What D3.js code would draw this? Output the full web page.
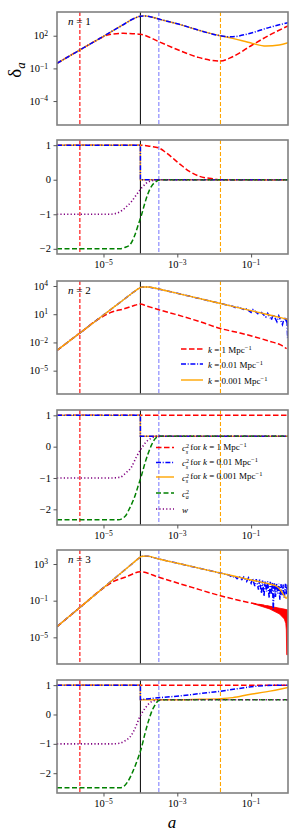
<!DOCTYPE html>
<html lang="en">
<head>
<meta charset="UTF-8" />
<title>delta_a for n = 1, 2, 3</title>
<script src="https://d3js.org/d3.v7.min.js"></script>
<style>
  body { margin: 0; background: #fff; }
  svg text { font-family: "Liberation Serif", "DejaVu Serif", serif; fill: #000; }
</style>
</head>
<body>
<div id="chart"></div>
<script>
// all abscissas are log10(a); log panels store log10(delta)
const xDomainExp = [-6.26, 0];
const xTickExp = [-5, -3, -1];
const horizonExp = [-5.64, -3.5, -1.83]; // k = 1, 0.01, 0.001 Mpc^-1
const transitionExp = -4;

// n = 1, delta_a
const n1Red = [[-6.26,-0.53],[-5.5,0.97],[-5.13,1.68],[-4.86,2.1],[-4.46,2.22],[-4.0,2.13],[-3.5,1.45],[-2.97,0.69],[-2.43,0.01],[-1.84,-0.33],[-1.5,0.07],[-0.97,1.15],[-0.5,2.06],[0,2.9]];
const n1Orange = [[-6.26,-0.53],[-5.5,0.97],[-5,1.95],[-4.5,2.95],[-4.15,3.62],[-4.0,3.8],[-3.9,3.82],[-3.7,3.72],[-3.5,3.53],[-2.97,3.07],[-2.43,2.52],[-1.84,2.0],[-1.5,1.76],[-0.97,1.3],[-0.6,1.05],[-0.24,1.15],[0,1.36]];
const n1Blue = [[-6.26,-0.53],[-5.5,0.97],[-5,1.95],[-4.5,2.95],[-4.15,3.62],[-4.0,3.8],[-3.9,3.82],[-3.7,3.72],[-3.5,3.53],[-2.97,3.07],[-2.43,2.52],[-1.84,2.0],[-1.55,1.9],[-0.97,2.28],[-0.5,2.77],[0,3.2]];

// n = 1, sound speeds, c_a^2 and w
const n1CsRed = [[-6.26,1],[-4,1],[-3.75,0.97],[-3.5,0.92],[-3.3,0.78],[-2.94,0.46],[-2.67,0.24],[-2.4,0.1],[-2.04,0.03],[-1.83,0],[0,0]];
const n1CsBlue = [[-6.26,1],[-4,1],[-4,0],[0,0]];
const n1CsOrange = [[-6.26,1],[-4,1],[-4,0],[0,0]];
const n1Ca2 = [[-6.26,-2],[-4.56,-2],[-4.42,-1.96],[-4.29,-1.89],[-4.15,-1.6],[-4.06,-1.31],[-3.97,-1.02],[-3.88,-0.68],[-3.79,-0.39],[-3.7,-0.19],[-3.57,-0.05],[-3.43,0],[0,0]];
const n1W = [[-6.26,-1],[-4.83,-1],[-4.56,-0.93],[-4.38,-0.78],[-4.24,-0.63],[-4.11,-0.44],[-3.97,-0.24],[-3.84,-0.1],[-3.66,-0.02],[-3.48,0],[0,0]];

// n = 2, delta_a
const n2Red = [[-6.26,-2.85],[-5.86,-1.65],[-5.5,-0.58],[-5.19,0.35],[-5.0,0.8],[-4.83,1.14],[-4.42,1.6],[-4.15,1.95],[-4.0,2.08],[-3.85,1.9],[-3.48,1.45],[-3.0,0.93],[-2.4,0.22],[-1.83,-0.52],[-1.3,-1.0],[-0.87,-1.44],[-0.42,-1.97],[-0.2,-2.25],[-0.04,-2.67]];
const n2Orange = [[-6.26,-2.85],[-5.86,-1.65],[-5.5,-0.58],[-5,0.92],[-4.5,2.41],[-4.2,3.31],[-4.05,3.72],[-3.95,3.9],[-3.8,3.9],[-3.5,3.68],[-3,3.22],[-2.5,2.76],[-2,2.3],[-1.5,1.84],[-1,1.38],[-0.5,0.92],[-0.2,0.64],[0,0.45]];
const n2Blue = [[-6.26,-2.85],[-5.86,-1.65],[-5.5,-0.58],[-5,0.92],[-4.5,2.41],[-4.2,3.31],[-4.05,3.72],[-3.95,3.9],[-3.8,3.9],[-3.5,3.68],[-3,3.22],[-2.5,2.76],[-2,2.3],[-1.5,1.84],[-1.4,1.66],[-1.35,1.75],[-1.2,1.5],[-1.15,1.62],[-1.0,1.2],[-0.95,1.5],[-0.8,1.0],[-0.75,1.3],[-0.6,0.7],[-0.55,1.1],[-0.45,0.4],[-0.4,0.98],[-0.3,0.2],[-0.25,0.82],[-0.15,-0.1],[-0.1,0.68],[-0.05,0.3],[-0.03,0.6],[-0.01,-1.55],[0,0.4]];

// n = 2, sound speeds, c_a^2 and w
const n2CsRed = [[-6.26,1],[0,1]];
const n2CsBlue = [[-6.26,1],[-4,1],[-4,0.333],[0,0.333]];
const n2CsOrange = [[-6.26,1],[-4,1],[-4,0.333],[0,0.333]];
const n2Ca2 = [[-6.26,-2.333],[-4.6,-2.333],[-4.42,-2.23],[-4.29,-1.96],[-4.15,-1.58],[-4.06,-1.25],[-3.97,-0.92],[-3.88,-0.54],[-3.79,-0.22],[-3.7,0.05],[-3.61,0.24],[-3.5,0.33],[0,0.333]];
const n2W = [[-6.26,-1],[-4.83,-1],[-4.56,-0.98],[-4.38,-0.82],[-4.24,-0.65],[-4.11,-0.33],[-3.97,-0.05],[-3.84,0.16],[-3.7,0.27],[-3.57,0.333],[0,0.333]];

// n = 3, delta_a
const n3Red = [[-6.26,-3.83],[-5.5,-1.27],[-5.1,0.08],[-4.74,1.07],[-4.38,1.61],[-4.0,2.16],[-3.5,1.55],[-2.6,0.45],[-1.83,-0.46],[-0.96,-1.29],[-0.5,-1.66],[-0.15,-2.0],[0,-2.05]];
const n3RedBand = [[-0.95,-1.3,-1.32],[-0.5,-1.6,-1.9],[-0.23,-1.82,-2.45],[-0.1,-1.92,-3.0],[-0.06,-1.96,-3.5],[-0.045,-1.98,-4.2],[-0.035,-1.99,-6.9],[-0.005,-2.02,-6.9],[0,-2.05,-3.0]];
const n3Orange = [[-6.26,-3.83],[-6,-2.95],[-5.5,-1.27],[-5,0.42],[-4.5,2.1],[-4.2,3.11],[-4.05,3.62],[-3.95,3.85],[-3.8,3.86],[-3.5,3.55],[-3,3.09],[-2.5,2.63],[-2,2.17],[-1.5,1.72],[-1,1.26],[-0.5,0.82],[-0.32,0.6],[-0.19,0.09],[-0.1,-0.49],[-0.05,-0.75],[0,-0.4]];
const n3Blue = [[-6.26,-3.83],[-6,-2.95],[-5.5,-1.27],[-5,0.42],[-4.5,2.1],[-4.2,3.11],[-4.05,3.62],[-3.95,3.85],[-3.8,3.86],[-3.5,3.55],[-3,3.09],[-2.5,2.63],[-2,2.17],[-1.6,1.8],[-1.5,1.55],[-1.45,1.72],[-1.38,1.4],[-1.32,1.66],[-1.25,1.3],[-1.2,1.58],[-1.12,1.1],[-1.07,1.5],[-1.0,0.9],[-0.96,1.42],[-0.9,0.6],[-0.86,1.35],[-0.8,0.2],[-0.77,1.3],[-0.72,-0.2],[-0.69,1.2],[-0.65,-0.5],[-0.62,1.15],[-0.58,0.0],[-0.55,1.1],[-0.51,-0.7],[-0.48,1.05],[-0.45,-0.3],[-0.42,1.0],[-0.4,-2.0],[-0.37,0.95],[-0.34,-0.6],[-0.31,0.9],[-0.28,-0.2],[-0.25,0.85],[-0.22,-0.9],[-0.19,0.8],[-0.16,-0.4],[-0.13,0.75],[-0.1,-0.7],[-0.07,0.85],[-0.04,-0.3],[-0.02,0.8],[0,0.2]];

// n = 3, sound speeds, c_a^2 and w
const n3CsRed = [[-6.26,1],[0,1]];
const n3CsBlue = [[-6.26,1],[-4,1],[-4,0.51],[-3.75,0.54],[-3.48,0.575],[-2.94,0.63],[-2.4,0.71],[-1.83,0.79],[-1.05,0.94],[-0.6,0.99],[0,1.0]];
const n3CsOrange = [[-6.26,1],[-4,1],[-4,0.5],[-3,0.5],[-2.4,0.52],[-1.83,0.54],[-1.5,0.575],[-1.05,0.68],[-0.6,0.77],[0,0.92]];
const n3Ca2 = [[-6.26,-2.5],[-4.56,-2.5],[-4.47,-2.47],[-4.34,-2.28],[-4.2,-1.93],[-4.06,-1.47],[-3.97,-1.13],[-3.88,-0.67],[-3.79,-0.26],[-3.7,0.08],[-3.61,0.31],[-3.5,0.48],[-3.39,0.5],[0,0.5]];
const n3W = [[-6.26,-1],[-4.74,-1],[-4.56,-0.98],[-4.42,-0.9],[-4.29,-0.78],[-4.15,-0.49],[-4.02,-0.09],[-3.88,0.2],[-3.75,0.39],[-3.61,0.48],[-3.48,0.5],[0,0.5]];

const logTicks1 = [2, -1, -4];
const logTicks2 = [4, 1, -2, -5];
const logTicks3 = [3, -1, -5];
const linTicks = [1, 0, -1, -2];

const styles = {
  red: { color: "#ff0000", dash: "5.5,2.5", w: 1.5 },
  blue: { color: "#0000ff", dash: "5,1.7,1,1.7", w: 1.5 },
  orange: { color: "#ffa500", dash: null, w: 1.4 },
  green: { color: "#008000", dash: "5,2.5", w: 1.5 },
  purple: { color: "#800080", dash: "1.2,2.2", w: 1.6 },
};

const panels = [
  { top: 12, bottom: 125, log: true, yDom: [-6.2, 4.18], ticks: logTicks1, n: "1",
    series: [["red", n1Red], ["orange", n1Orange], ["blue", n1Blue]] },
  { top: 140, bottom: 254, log: false, yDom: [-2.15, 1.15], ticks: linTicks,
    series: [["red", n1CsRed], ["orange", n1CsOrange, true], ["blue", n1CsBlue, true], ["green", n1Ca2], ["purple", n1W]] },
  { top: 281, bottom: 394, log: true, yDom: [-7.48, 4.53], ticks: logTicks2, n: "2",
    series: [["red", n2Red], ["blue", n2Blue, true], ["orange", n2Orange]] },
  { top: 410, bottom: 525, log: false, yDom: [-2.5, 1.17], ticks: linTicks,
    series: [["red", n2CsRed, true], ["orange", n2CsOrange, true], ["blue", n2CsBlue, true], ["green", n2Ca2], ["purple", n2W]] },
  { top: 550, bottom: 664, log: true, yDom: [-7.91, 4.53], ticks: logTicks3, n: "3", band: n3RedBand,
    series: [["red", n3Red], ["blue", n3Blue, true], ["orange", n3Orange]] },
  { top: 680, bottom: 793, log: false, yDom: [-2.675, 1.175], ticks: linTicks,
    series: [["red", n3CsRed, true], ["orange", n3CsOrange], ["blue", n3CsBlue, true], ["green", n3Ca2], ["purple", n3W]] },
];

const left = 57, right = 288;
const svg = d3.select("#chart").append("svg").attr("width", 300).attr("height", 839);

const x = d3.scaleLog().domain(xDomainExp.map((e) => 10 ** e)).range([left, right]);

function supLabel(sel, base, exp, size) {
  sel.append("tspan").text(base);
  sel.append("tspan").attr("dy", "-0.45em").style("font-size", size * 0.72 + "px").text(exp);
}

const minus = (v) => (v < 0 ? "\u2212" + Math.abs(v) : String(v));

panels.forEach((p, i) => {
  const y = p.log
    ? d3.scaleLog().domain(p.yDom.map((e) => 10 ** e)).range([p.bottom, p.top])
    : d3.scaleLinear().domain(p.yDom).range([p.bottom, p.top]);
  const yv = (v) => (p.log ? y(10 ** v) : y(v));

  const g = svg.append("g");
  const clipId = "clip" + i;
  svg.append("clipPath").attr("id", clipId).append("rect")
    .attr("x", left).attr("y", p.top).attr("width", right - left).attr("height", p.bottom - p.top);
  const plot = g.append("g").attr("clip-path", `url(#${clipId})`);

  // vertical markers
  const vcol = ["#ff0000", "#8080ff", "#ffa500"];
  horizonExp.forEach((e, j) => {
    plot.append("line")
      .attr("x1", x(10 ** e)).attr("x2", x(10 ** e))
      .attr("y1", p.top).attr("y2", p.bottom)
      .attr("stroke", vcol[j]).attr("stroke-width", 1.1)
      .attr("stroke-dasharray", "4,2");
  });
  plot.append("line")
    .attr("x1", x(10 ** transitionExp)).attr("x2", x(10 ** transitionExp))
    .attr("y1", p.top).attr("y2", p.bottom)
    .attr("stroke", "#000").attr("stroke-width", 1);

  if (p.band) {
    plot.append("path").datum(p.band)
      .attr("fill", "#ff0000").attr("stroke", "#ff0000").attr("stroke-width", 0.8)
      .attr("d", d3.area().x((d) => x(10 ** d[0])).y0((d) => yv(d[2])).y1((d) => yv(d[1])));
  }

  p.series.forEach(([name, data, straight]) => {
    const s = styles[name];
    const line = d3.line()
      .x((d) => x(10 ** d[0]))
      .y((d) => yv(d[1]))
      .curve(straight ? d3.curveLinear : d3.curveMonotoneX);
    plot.append("path").datum(data)
      .attr("fill", "none")
      .attr("stroke", s.color)
      .attr("stroke-width", s.w)
      .attr("stroke-dasharray", s.dash)
      .attr("d", line);
  });

  // frame
  g.append("rect")
    .attr("x", left).attr("y", p.top)
    .attr("width", right - left).attr("height", p.bottom - p.top)
    .attr("fill", "none").attr("stroke", "#808080").attr("stroke-width", 1.6);

  // y axis ticks
  const tickVals = p.log ? p.ticks.map((e) => 10 ** e) : p.ticks;
  const ax = g.append("g").attr("transform", `translate(${left},0)`)
    .call(d3.axisLeft(y).tickValues(tickVals).tickSize(3.5).tickFormat(""));
  ax.select(".domain").remove();
  ax.selectAll(".tick line").attr("stroke", "#555");

  p.ticks.forEach((t) => {
    const yy = p.log ? y(10 ** t) : y(t);
    const txt = g.append("text")
      .attr("x", p.log ? 48 : 51).attr("y", yy + 3.6)
      .attr("text-anchor", "end").style("font-size", "10.5px");
    if (p.log) supLabel(txt, "10", minus(t), 10.5);
    else txt.text(minus(t));
  });

  if (!p.log) {
    const xa = g.append("g").attr("transform", `translate(0,${p.bottom})`)
      .call(d3.axisBottom(x).tickValues(xTickExp.map((e) => 10 ** e)).tickSize(3.5).tickFormat(""));
    xa.select(".domain").remove();
    xa.selectAll(".tick line").attr("stroke", "#555");
    xTickExp.forEach((e) => {
      const txt = g.append("text")
        .attr("x", x(10 ** e)).attr("y", p.bottom + 14)
        .attr("text-anchor", "middle").style("font-size", "10.5px");
      supLabel(txt, "10", minus(e), 10.5);
    });
  }

  if (p.n) {
    const t = g.append("text").attr("x", 68).attr("y", p.top + 13).style("font-size", "11px");
    t.append("tspan").style("font-style", "italic").text("n");
    t.append("tspan").text(" = " + p.n);
  }
});

// legend in the n = 2 delta panel
const leg1 = [["red", "1"], ["blue", "0.01"], ["orange", "0.001"]];
const leg1Y = [349, 364, 380];
leg1.forEach(([name, k], i) => {
  const s = styles[name];
  svg.append("line").attr("x1", 181).attr("x2", 203).attr("y1", leg1Y[i]).attr("y2", leg1Y[i])
    .attr("stroke", s.color).attr("stroke-width", s.w).attr("stroke-dasharray", s.dash);
  const t = svg.append("text").attr("x", 208).attr("y", leg1Y[i] + 3.5).style("font-size", "9px");
  t.append("tspan").style("font-style", "italic").text("k");
  t.append("tspan").text(" = " + k + " Mpc");
  t.append("tspan").attr("dy", "-0.45em").style("font-size", "6.5px").text("\u22121");
});

// legend in the n = 2 sound speed panel
const leg2 = [["red", "1"], ["blue", "0.01"], ["orange", "0.001"], ["green", null], ["purple", null]];
const leg2Y = [447.5, 462.5, 477, 493, 509];
leg2.forEach(([name, k], i) => {
  const s = styles[name];
  svg.append("line").attr("x1", 156).attr("x2", 174).attr("y1", leg2Y[i]).attr("y2", leg2Y[i])
    .attr("stroke", s.color).attr("stroke-width", s.w).attr("stroke-dasharray", s.dash);
  const t = svg.append("text").attr("x", 182).attr("y", leg2Y[i] + 3.5).style("font-size", "9px");
  if (name === "purple") {
    t.append("tspan").style("font-style", "italic").text("w");
    return;
  }
  t.append("tspan").style("font-style", "italic").text("c");
  t.append("tspan").attr("dy", "-0.5em").style("font-size", "6px").text("2");
  t.append("tspan").attr("dx", "-3.3").attr("dy", "0.95em").style("font-size", "6px")
    .style("font-style", "italic").text(k ? "s" : "a");
  if (k) {
    t.append("tspan").attr("dy", "-0.45em").text(" for ");
    t.append("tspan").style("font-style", "italic").text("k");
    t.append("tspan").text(" = " + k + " Mpc");
    t.append("tspan").attr("dy", "-0.45em").style("font-size", "6.5px").text("\u22121");
  }
});

// axis titles
const yl = svg.append("text")
  .attr("transform", "translate(21,70) rotate(-90)")
  .attr("text-anchor", "middle").style("font-size", "19px");
yl.append("tspan").text("\u03b4");
yl.append("tspan").attr("dy", "0.3em").style("font-size", "13px").style("font-style", "italic").text("a");

svg.append("text").attr("x", 172).attr("y", 828)
  .attr("text-anchor", "middle").style("font-size", "17px").style("font-style", "italic").text("a");
</script>
</body>
</html>
